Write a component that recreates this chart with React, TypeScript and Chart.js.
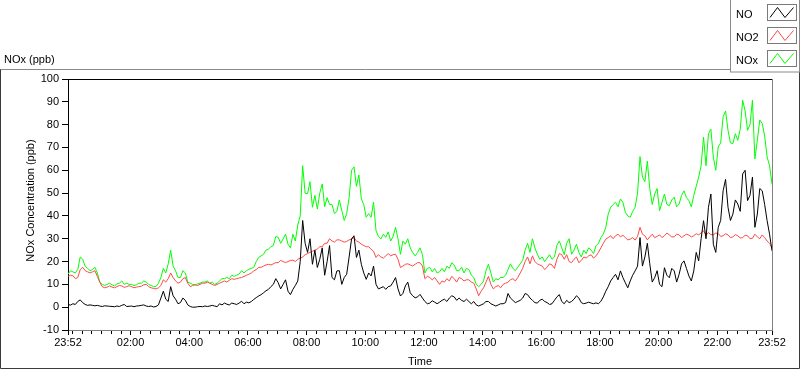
import React, { useEffect, useRef } from 'react';
import { Chart, registerables } from 'chart.js';

Chart.register(...registerables);

// sampling interval of the series (minutes after 23:52)
const SAMPLE_MINUTES = 5;

const NO = [
  1.2, 0.9, 1.5, 1.2, 2.5, 3.2, 2, 1.2, 0.8, 1.0, 0.8, 0.6, 0.8, 0.5, 0.3, 0.6, 0.5, 0.4, 0.3, 0.2,
  0.5, 0.3, 0.8, 1.2, 0.3, 0.4, 0.5, 0.2, 0.5, 0.6, 0.8, 1.0, 0.5, 0.3, 0.5, 0.1, 0.3, 1.0, 4, 7,
  3.5, 2.5, 9, 5, 3.5, 1.5, 2, 4, 3, 1, 0.3, 0, 0, 0.2, 0.3, 0.2, 0.5, 0.3, 0.5, 0.8,
  0.5, 0.2, 1.5, 1.0, 1.8, 1.3, 1, 1.8, 1.5, 1.2, 1.8, 2.6, 1.5, 2.2,
  1.9, 2.5, 3.4, 4.2, 4.9, 5.5, 6.3, 7.2, 7.8, 9, 10, 12.5, 10.7, 8, 10, 12, 7, 5.5, 7.8, 9.5,
  11.5, 20, 38, 28, 24, 30, 18.8, 25, 17.4, 21, 26, 14, 20, 27, 13, 12, 15.9, 16, 10, 13,
  14.4, 22, 29.9, 31.3, 21.8, 25, 18.8, 15, 12.2, 15, 13.7, 18, 10, 8, 8.5, 9, 7.8, 9, 9.3, 11,
  13, 8, 4.9, 6, 9.3, 11, 6.3, 5, 4.1, 4.5, 5.6, 4,
  2.5, 1.5, 1.8, 2.8, 2.2, 1.5, 2.2, 3, 3.5, 2.5, 4, 5, 4.5, 3, 4, 3, 2.5, 3.5, 2.5, 1.5,
  2.5, 1, 0.5, 1, 1.5, 2.5, 2.5, 1.5, 1, 0.5, 1, 1.5, 1.5, 2, 6, 4, 3, 2, 2.5, 3,
  4, 6, 5.5, 4, 3, 2, 1.8, 3, 3.5, 2.5, 2, 1.2, 1.5, 3, 4.5, 5.5, 2.5, 1.5, 3, 2,
  2.5, 3.5, 5, 4, 2, 1.5, 1.8, 2.2, 1.8, 1.5,
  1.9, 1.5, 2.6, 4.5, 7, 9, 11.5, 13, 14.4, 12, 15.9, 13, 10.7, 8.5, 11.5, 14, 15.9, 18, 30.5, 18,
  22, 28, 19, 11, 12.9, 16, 10, 9, 17.3, 14, 12.9, 17, 15.9, 11, 14.4, 19, 20.3, 17, 13.7, 11.5,
  15.9, 24, 20.3, 30, 37.9, 30, 43.8, 49.6, 27.6, 24, 35, 38, 51, 56, 43.8, 38, 40.8, 47, 45.2, 42,
  58.4, 60, 46.7, 49, 57, 35, 40.8, 52, 51, 45, 37.9, 32, 24.7,
];

const NO2 = [
  13.5, 14, 13.8, 12.5, 13, 16.5, 17.5, 16, 15.5, 15, 15.5, 16, 13.5, 11, 9, 8.5, 8.8, 9.3, 8.8, 8.5,
  9, 9.5, 9.3, 8.7, 9, 9.4, 9, 8.5, 8.8, 9, 9.2, 9.8, 10, 9, 8.5, 8.2, 8, 8.5, 9.5, 12,
  11, 12.5, 15, 13, 11.5, 10.5, 11, 12.5, 13, 10.5, 9, 9.5, 9.8, 9.5, 10, 10.5, 10.5, 11, 10.5, 10,
  9.5, 10, 10.5, 11, 11.5, 11, 11.8, 12.5, 12.2, 12.5, 12.8, 13, 13.5, 14,
  14.4, 15, 15.9, 16.5, 17.4, 17.5, 18, 18.5, 18.8, 18.5, 19, 19.5, 19.5, 20.5, 20, 19.5, 20, 20.5, 20.6, 20,
  21, 21.5, 22, 23, 23.5, 24, 24.5, 25, 25.5, 26.5, 26.5, 28, 28, 30, 29, 28.5, 29.5, 29.5, 29, 28.5,
  28.8, 29.5, 29.9, 30.5, 29, 28.5, 27.6, 27, 26.5, 26.5, 25.4, 24.5, 21.8, 23, 22, 21.5, 22.5, 23.5, 22.5, 23,
  23.2, 21, 17.4, 18, 18.8, 19, 18.5, 18, 18.8, 19.5, 19.5, 18,
  12.5, 13.5, 13, 12, 13, 11.5, 10, 11.5, 11, 12.5, 11.5, 13.5, 12.5, 11, 13, 12.5, 11.5, 12, 12, 11,
  10.5, 8, 5, 7, 8.5, 11, 13.5, 10, 8, 9, 9.5, 8.5, 10, 10.5, 11, 12, 12.5, 11.5, 13, 15,
  17, 20, 22, 19, 22.5, 20, 19, 18.5, 18, 16.5, 17.5, 19, 18.5, 17, 21, 23.5, 23, 21, 23, 20,
  19.5, 21, 22, 19.5, 20.5, 22, 21.5, 22.5, 23, 21.5,
  22.5, 24, 26, 28, 29.8, 30.5, 31.3, 30, 31.3, 32, 30.8, 31.5, 30.5, 29.5, 29.8, 30.5, 29.4, 31, 35, 32,
  31.3, 29.5, 30.8, 32, 30.5, 31, 31.7, 30.5, 31.3, 32.5, 31.7, 30.8, 30.8, 32, 31.7, 30.5, 31.3, 32, 31.6, 30.8,
  31.3, 32.2, 31.7, 32.5, 33.5, 31.5, 32.7, 31.8, 31.7, 32.5, 32.3, 31, 31.3, 32.2, 31.7, 30.5, 30.8, 31.8, 31.3, 30.3,
  30.5, 31.5, 31.3, 30, 30.2, 32, 30.8, 30, 31.7, 30.5, 29, 28, 26,
];

const NOX = [
  14.5, 16, 15.5, 15, 16.5, 22, 21, 18, 17, 16, 16.5, 17.5, 15, 11, 10, 9.5, 10, 10.5, 9.8, 9.3,
  10.2, 10.5, 11.5, 10, 10.5, 10, 10, 9.5, 9.8, 10.5, 10.5, 11.5, 11, 10, 9.5, 9, 9, 10.5, 13, 17,
  15, 19, 25, 18, 16, 13, 13, 16, 15, 11, 10.5, 10, 9.8, 10.2, 10.5, 11, 11, 11.5, 10.5, 11,
  10, 10.5, 11.5, 12.5, 12.5, 13, 12.5, 14, 13.5, 14, 14.5, 16, 15, 16,
  16.6, 17, 17.4, 20, 21.8, 22.5, 23.2, 25, 25.4, 26.5, 27, 31, 30.6, 28, 29.9, 32, 27.6, 26, 32, 29,
  36, 40, 62, 50, 49.7, 55, 43.8, 49, 43, 50, 54, 44, 48, 45, 45, 41, 42, 47, 42.3, 38,
  41, 48, 60, 61.5, 53, 58, 47.5, 45, 39.4, 41, 39.4, 46, 33.5, 31, 29.9, 32, 30.6, 33, 29, 31,
  35, 30, 23.2, 29, 27.6, 30, 26, 24, 22.5, 24, 26, 23,
  15, 17, 17.4, 15.5, 17, 15, 15.5, 17, 15.5, 18, 17, 19.5, 18.5, 16, 16, 17.5, 15, 17, 16.5, 14,
  13, 10, 9, 10, 11.5, 16, 18.8, 15, 11, 12.5, 12, 13, 13, 14, 16.5, 19, 17, 16, 17.5, 19,
  20.5, 25, 28, 24, 30, 26, 23.2, 21, 22, 20, 21.5, 23, 21, 22, 27, 29, 26, 23, 28, 30,
  23.2, 25, 27.6, 24, 22, 25, 23.5, 26, 25, 23.5,
  26.9, 28, 30.5, 32, 35, 40.8, 43.8, 45, 46, 44, 47.4, 46, 41.6, 40, 39.4, 42, 43.8, 50, 66, 57,
  55, 64, 52, 45, 49.6, 52, 42.3, 46, 49.6, 45, 44.5, 47, 48.2, 44, 45.2, 49, 51, 48, 46.7, 44,
  48.9, 53, 57, 62, 74.6, 62, 76, 78, 65.8, 60, 70.2, 72, 83.4, 86, 77.5, 72, 71.7, 76, 73.1, 78,
  90.7, 86, 77.5, 80, 90.7, 65, 73.1, 82, 80.5, 75, 65.8, 62, 54,
];

const SERIES_NAMES = ['NO', 'NO2', 'NOx'];
const SERIES_COLORS = ['#000000', '#ff4848', '#00ff00'];

const X_TICK_MINUTES = [0, 128, 248, 368, 488, 608, 728, 848, 968, 1088, 1208, 1328, 1440];
const X_TICK_LABELS = ['23:52', '02:00', '04:00', '06:00', '08:00', '10:00', '12:00', '14:00', '16:00', '18:00', '20:00', '22:00', '23:52'];
const MINOR_TICK_START = 8;
const MINOR_TICK_STEP = 20;

const Y_MIN = -10;
const Y_MAX = 100;
const Y_STEP = 10;

const CHART_TITLE = 'NOx (ppb)';
const Y_TITLE = 'NOx Concentration (ppb)';
const X_TITLE = 'Time';

const FONT = '"Liberation Sans", Arial, sans-serif';

const decorPlugin = {
  id: 'decor',
  afterDraw(chart: any) {
    const ctx = chart.ctx as CanvasRenderingContext2D;
    const a = chart.chartArea;
    const xs = chart.scales.x;
    ctx.save();
    ctx.lineWidth = 1;

    // outer frame
    ctx.strokeStyle = '#8a8a8a';
    ctx.beginPath();
    ctx.moveTo(0, 69.5);
    ctx.lineTo(731, 69.5);
    ctx.stroke();
    ctx.strokeStyle = '#3a3a3a';
    ctx.beginPath();
    ctx.moveTo(0.5, 69.5);
    ctx.lineTo(0.5, 368.5);
    ctx.lineTo(799.5, 368.5);
    ctx.lineTo(799.5, 72);
    ctx.stroke();

    // plot area top and right borders
    ctx.strokeStyle = '#000';
    ctx.beginPath();
    ctx.moveTo(a.left, Math.round(a.top) + 0.5);
    ctx.lineTo(a.right, Math.round(a.top) + 0.5);
    ctx.stroke();
    ctx.strokeStyle = '#808080';
    ctx.beginPath();
    ctx.moveTo(Math.round(a.right) + 0.5, a.top);
    ctx.lineTo(Math.round(a.right) + 0.5, a.bottom);
    ctx.stroke();

    // minor x ticks
    ctx.strokeStyle = '#000';
    ctx.beginPath();
    for (let m = MINOR_TICK_START; m < 1440; m += MINOR_TICK_STEP) {
      if (X_TICK_MINUTES.includes(m)) continue;
      const px = Math.round(xs.getPixelForValue(m)) + 0.5;
      ctx.moveTo(px, a.bottom + 1);
      ctx.lineTo(px, a.bottom + 4);
    }
    ctx.stroke();

    // texts
    ctx.fillStyle = '#000';
    ctx.font = `11px ${FONT}`;
    ctx.textBaseline = 'alphabetic';
    ctx.textAlign = 'left';
    ctx.fillText(CHART_TITLE, 4, 63);

    ctx.textAlign = 'center';
    ctx.fillText(X_TITLE, (a.left + a.right) / 2, 365);

    ctx.save();
    ctx.translate(31, (a.top + a.bottom) / 2 - 4);
    ctx.rotate(-Math.PI / 2);
    ctx.textBaseline = 'middle';
    ctx.fillText(Y_TITLE, 0, 0);
    ctx.restore();

    // legend
    ctx.fillStyle = '#fff';
    ctx.fillRect(731, 0, 69, 72);
    ctx.strokeStyle = '#8a8a8a';
    ctx.strokeRect(730.5, -0.5, 69, 72.5);
    for (let i = 0; i < SERIES_NAMES.length; i++) {
      const top = 4 + i * 23;
      ctx.fillStyle = '#000';
      ctx.textAlign = 'left';
      ctx.textBaseline = 'alphabetic';
      ctx.fillText(SERIES_NAMES[i], 736, top + 13.5);
      ctx.strokeStyle = '#7a7a7a';
      ctx.strokeRect(767.5, top + 0.5, 29, 16);
      ctx.strokeStyle = SERIES_COLORS[i];
      ctx.beginPath();
      ctx.moveTo(770, top + 13.5);
      ctx.lineTo(777.5, top + 3.5);
      ctx.lineTo(785, top + 13.5);
      ctx.lineTo(793.5, top + 3.5);
      ctx.stroke();
    }
    ctx.restore();
  },
};

export default function App() {
  const canvasRef = useRef<HTMLCanvasElement | null>(null);

  useEffect(() => {
    document.body.style.margin = '0';
    const canvas = canvasRef.current;
    if (!canvas) return;
    const seriesValues = [NO, NO2, NOX];
    const chart = new Chart(canvas, {
      type: 'line',
      data: {
        datasets: seriesValues.map((vals, si) => ({
          label: SERIES_NAMES[si],
          data: vals.map((y, i) => ({ x: i * SAMPLE_MINUTES, y })),
          borderColor: SERIES_COLORS[si],
          backgroundColor: SERIES_COLORS[si],
          borderWidth: 1,
          pointRadius: 0,
          tension: 0,
          fill: false,
        })),
      },
      options: {
        responsive: false,
        maintainAspectRatio: false,
        animation: false,
        events: [],
        layout: { padding: { left: 0, top: 79, right: 28, bottom: 0 } },
        plugins: {
          legend: { display: false },
          title: { display: false },
          tooltip: { enabled: false },
        },
        scales: {
          x: {
            type: 'linear',
            min: 0,
            max: 1440,
            afterFit: (s: any) => { s.height = 39; },
            afterBuildTicks: (s: any) => { s.ticks = X_TICK_MINUTES.map((v) => ({ value: v })); },
            ticks: {
              autoSkip: false,
              maxRotation: 0,
              minRotation: 0,
              padding: 1,
              color: '#000',
              font: { family: FONT, size: 11 },
              callback: (_v: any, i: number) => X_TICK_LABELS[i],
            },
            grid: { drawOnChartArea: false, drawTicks: true, tickLength: 5, color: '#000' },
            border: { display: true, color: '#808080' },
          },
          y: {
            type: 'linear',
            min: Y_MIN,
            max: Y_MAX,
            afterFit: (s: any) => { s.width = 68; },
            ticks: {
              stepSize: Y_STEP,
              padding: 3,
              color: '#000',
              font: { family: FONT, size: 11 },
            },
            grid: { drawOnChartArea: false, drawTicks: true, tickLength: 6, color: '#000' },
            border: { display: true, color: '#000' },
          },
        },
      },
      plugins: [decorPlugin],
    });
    return () => chart.destroy();
  }, []);

  return (
    <div style={{ width: 800, height: 369, position: 'relative', background: '#fff' }}>
      <canvas ref={canvasRef} width={800} height={369} style={{ display: 'block' }} />
    </div>
  );
}
